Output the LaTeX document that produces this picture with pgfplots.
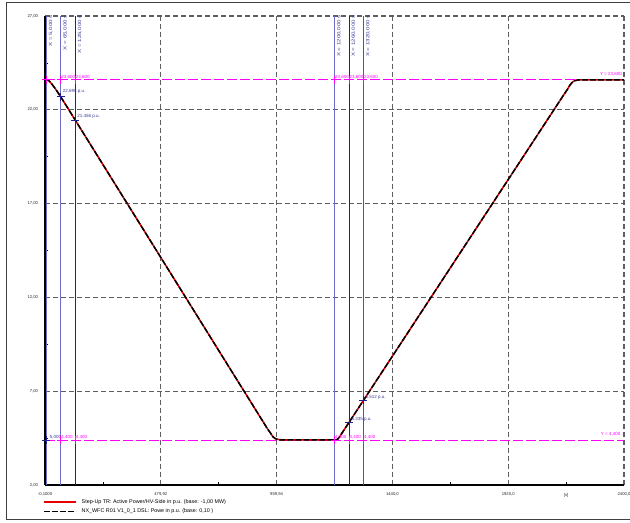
\documentclass[border=0pt]{standalone}
\usepackage{pgfplots}
\usepackage{pgfplotstable}
\pgfplotsset{compat=1.18}
\usepackage{fontspec}
\setmainfont{Liberation Sans}

\definecolor{curvered}{RGB}{230,0,0}
\definecolor{cursorA}{RGB}{110,110,200}
\definecolor{cursorB}{RGB}{30,30,150}
\definecolor{cursorC}{RGB}{80,80,180}
\definecolor{labnavy}{RGB}{55,55,150}
\definecolor{ymag}{RGB}{255,0,255}
\definecolor{gridgray}{RGB}{95,95,95}

% Step-Up TR: active power at HV side (p.u.)
\pgfplotstableread{
t     p
-0.1  23.600
5     23.600
10    23.590
15    23.560
20    23.500
25    23.420
30    23.340
40    23.170
50    22.985
65    22.695
125   21.456
900   5.452
920   5.039
935   4.760
945   4.570
955   4.470
965   4.430
980   4.405
1000  4.400
1200  4.400
1205  4.405
1212  4.430
1220  4.550
1230  4.750
1260  5.335
1320  6.512
2100  21.813
2150  22.794
2165  23.080
2175  23.300
2185  23.460
2195  23.550
2210  23.590
2230  23.600
2400  23.600
}\stepup

% NX_WFC R01 V1_0_1 DSL: power (p.u.)
\pgfplotstableread{
t     p
-0.1  23.600
5     23.600
10    23.590
15    23.560
20    23.500
25    23.420
30    23.340
40    23.170
50    22.985
65    22.695
125   21.456
900   5.452
920   5.039
935   4.760
945   4.570
955   4.470
965   4.430
980   4.405
1000  4.400
1200  4.400
1205  4.405
1212  4.430
1220  4.550
1230  4.750
1260  5.335
1320  6.512
2100  21.813
2150  22.794
2165  23.080
2175  23.300
2185  23.460
2195  23.550
2210  23.590
2230  23.600
2400  23.600
}\wfcpower

\newcommand{\tickfont}{\fontsize{4.2}{5}\selectfont}
\newcommand{\labfont}{\fontsize{4.5}{5.5}\selectfont}
\newcommand{\legfont}{\fontsize{5.4}{6.5}\selectfont}
\newcommand{\capfont}{\fontsize{4.6}{5.5}\selectfont}
\newcommand{\captext}[1]{\scalebox{1.35}[1]{#1}}

\begin{document}
\begin{tikzpicture}[x=1bp,y=1bp,
  cursorcap/.style={rotate=90, anchor=north east, font=\capfont, text=labnavy,
    inner sep=0.5bp, xshift=1.5bp, yshift=-2bp},
  readlab/.style={text=labnavy, font=\labfont, anchor=base west, inner sep=0pt},
  maglab/.style={text=ymag, font=\labfont, anchor=base west, inner sep=0pt,
    xshift=0.5bp, yshift=1bp}]
\useasboundingbox (0,0) rectangle (630,523);
\draw[line width=1bp, black!75] (6,3) rectangle (634,520);
\begin{axis}[
  at={(45bp,38bp)}, anchor=south west,
  scale only axis, width=579bp, height=469bp,
  xmin=-0.1, xmax=2400, ymin=2, ymax=27,
  axis x line*=bottom, axis y line*=left,
  axis line style={black, line width=1.1bp},
  xtick={-0.1,479.92,959.94,1440,1920,2400},
  xticklabels={{-0,1000},{479,92},{959,94},{1440,0},{1920,0},{2400,0\hspace{5bp}}},
  ytick={2,7,12,17,22,27},
  yticklabels={{2,00},{7,00},{12,00},{17,00},{22,00},{27,00}},
  minor xtick={240,720,1200,1680},
  minor ytick={4.5,9.5,14.5,19.5,24.5},
  extra x ticks={2160},
  extra x tick labels={{[s]}},
  extra x tick style={grid=none, major tick length=2.5bp},
  grid=major,
  major grid style={gridgray, dash pattern=on 5bp off 3bp, line width=1.2bp},
  tick align=inside, tick pos=left,
  major tick length=0bp, minor tick length=2.5bp,
  every tick/.style={black, line width=0.6bp},
  ticklabel style={font=\tickfont, text=black!85},
  yticklabel style={xshift=-3.5bp},
  xticklabel style={yshift=-4.5bp},
  legend style={at={(0,0)}, anchor=north west, xshift=-2bp, yshift=-13bp,
    draw=none, fill=none, font=\legfont, inner sep=0pt, row sep=2bp,
    nodes={inner sep=1bp, anchor=west}},
  legend cell align=left,
  legend image code/.code={\draw[#1] (0bp,0bp) -- (32bp,0bp);},
  /tikz/every odd column/.append style={column sep=4bp},
]

% time cursors
\addplot[cursorA, line width=0.8bp, forget plot] coordinates {(5,2) (5,27)};
\addplot[cursorA, line width=0.8bp, forget plot] coordinates {(65,2) (65,27)};
\addplot[cursorB, line width=0.8bp, forget plot] coordinates {(125,2) (125,27)};
\addplot[cursorA, line width=0.8bp, forget plot] coordinates {(1200,2) (1200,27)};
\addplot[cursorB, line width=0.8bp, forget plot] coordinates {(1260,2) (1260,27)};
\addplot[cursorC, line width=0.8bp, forget plot] coordinates {(1320,2) (1320,27)};

% value cursors
\addplot[ymag, line width=0.8bp, dash pattern=on 10bp off 3bp, forget plot]
  coordinates {(-0.1,23.6) (2400,23.6)};
\addplot[ymag, line width=0.8bp, dash pattern=on 10bp off 3bp, forget plot]
  coordinates {(-0.1,4.4) (2400,4.4)};

% curves
\addplot[curvered, line width=1.5bp] table[x=t, y=p] {\stepup};
\addlegendentry{Step-Up TR: Active Power/HV-Side in p.u. (base: -1,00 MW)}
\addplot[black, line width=1.5bp, dash pattern=on 6bp off 2bp] table[x=t, y=p] {\wfcpower};
\addlegendentry{NX\_WFC R01 V1\_0\_1 DSL: Powe in p.u. (base: 0,10 )}

% cursor crossings
\addplot[only marks, mark=+, mark size=4bp, ymag, mark options={line width=0.8bp}, forget plot]
  coordinates {(5,23.6) (65,23.6) (125,23.6) (1200,23.6) (1260,23.6) (1320,23.6)
               (65,4.4) (125,4.4) (1200,4.4) (1260,4.4) (1320,4.4)};
\addplot[only marks, mark=+, mark size=4bp, cursorB, mark options={line width=0.8bp}, forget plot]
  coordinates {(5,4.4) (65,22.695) (125,21.456) (1260,5.335) (1320,6.512)};

% cursor captions
\node[cursorcap] at (axis cs:5,27) {\captext{X = 5,000 s}};
\node[cursorcap] at (axis cs:65,27) {\captext{X = 65,000 s}};
\node[cursorcap] at (axis cs:125,27) {\captext{X = 125,000 s}};
\node[cursorcap] at (axis cs:1200,27) {\captext{X = 1200,000 s}};
\node[cursorcap] at (axis cs:1260,27) {\captext{X = 1260,000 s}};
\node[cursorcap] at (axis cs:1320,27) {\captext{X = 1320,000 s}};

% readings on the curve
\node[readlab, xshift=2bp, yshift=4bp] at (axis cs:65,22.695) {22.695 p.u.};
\node[readlab, xshift=2bp, yshift=2bp] at (axis cs:125,21.456) {21.456 p.u.};
\node[readlab, xshift=2.5bp, yshift=1.5bp] at (axis cs:1260,5.335) {5.335 p.u.};
\node[readlab, xshift=2bp, yshift=1.5bp] at (axis cs:1320,6.512) {6.512 p.u.};

% readings on the value cursors
\node[maglab] at (axis cs:65,23.6) {23,600};
\node[maglab] at (axis cs:125,23.6) {23,600};
\node[maglab] at (axis cs:1200,23.6) {23,600};
\node[maglab] at (axis cs:1260,23.6) {23,600};
\node[maglab] at (axis cs:1320,23.6) {23,600};
\node[maglab, text=labnavy, xshift=3bp] at (axis cs:5,4.4) {5,000};
\node[maglab] at (axis cs:65,4.4) {4,400};
\node[maglab] at (axis cs:125,4.4) {4,400};
\node[maglab] at (axis cs:1200,4.4) {4,400};
\node[maglab] at (axis cs:1260,4.4) {4,400};
\node[maglab] at (axis cs:1320,4.4) {4,400};
\node[maglab, anchor=base east, xshift=-2.5bp, yshift=3bp] at (axis cs:2400,23.6) {Y = 23,600};
\node[maglab, anchor=base east, xshift=-4bp, yshift=3bp] at (axis cs:2400,4.4) {Y = 4,400};
\end{axis}
\end{tikzpicture}
\end{document}
